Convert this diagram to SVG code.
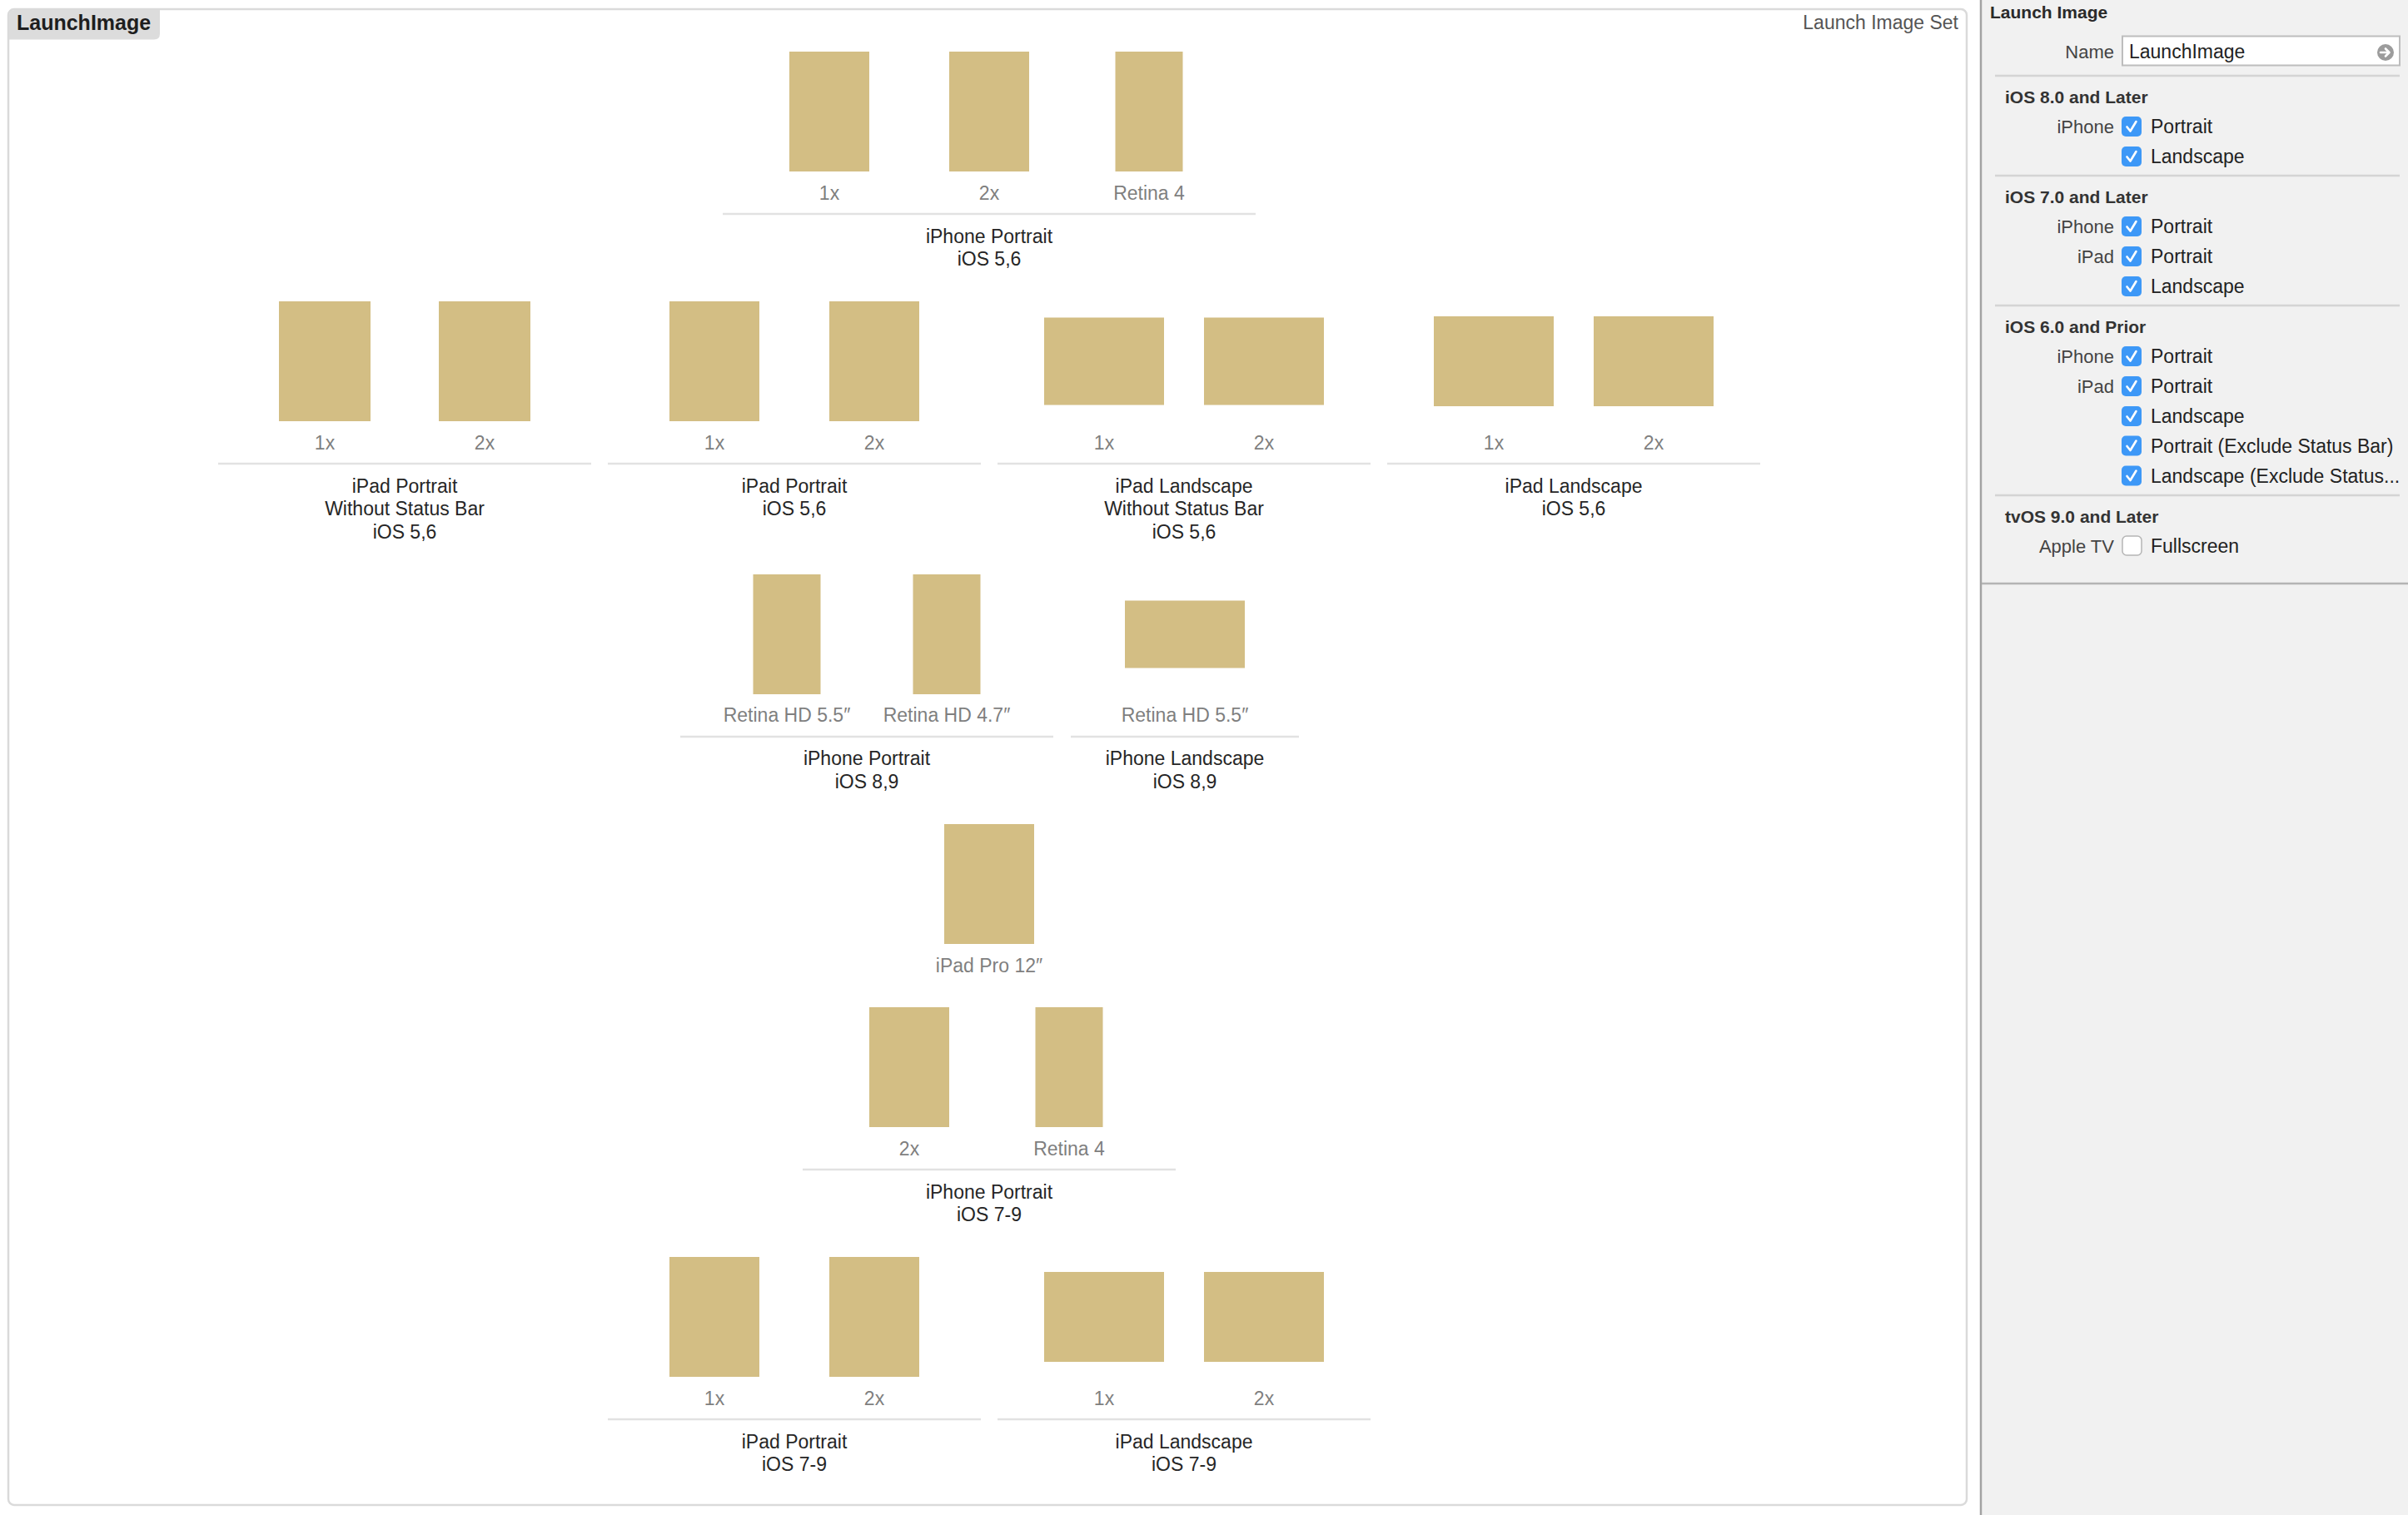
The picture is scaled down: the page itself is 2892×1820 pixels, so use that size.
<svg xmlns="http://www.w3.org/2000/svg" width="2892" height="1820" viewBox="0 0 2892 1820">
<style>
  text { font-family: "Liberation Sans", Arial, sans-serif; }
  .img { fill: #D3BE84; }
  .lbl { font-size: 23px; fill: #7f7f7f; text-anchor: middle; }
  .ttl { font-size: 23px; fill: #262626; text-anchor: middle; }
  .sep { stroke: #e2e2e2; stroke-width: 2.5; }
  .psep { stroke: #d4d4d4; stroke-width: 2.5; }
  .hdr { font-size: 21px; font-weight: bold; fill: #333333; }
  .key { font-size: 22px; fill: #444444; text-anchor: end; }
  .val { font-size: 23px; fill: #222222; }
  .cb { fill: #3d98f7; }
  .ck { fill: none; stroke: #ffffff; stroke-width: 2.6; stroke-linecap: round; stroke-linejoin: round; }
</style>
<defs>
  <g id="check">
    <rect class="cb" x="0" y="0" width="24" height="24" rx="5"/>
    <path class="ck" d="M6.5 12.5 L10.5 17.5 L17.5 6"/>
  </g>
</defs>

<rect x="0" y="0" width="2892" height="1820" fill="#ffffff"/>

<!-- canvas -->
<g id="canvas">
  <rect x="10" y="11" width="2352" height="1797" rx="7" fill="#ffffff" stroke="#dadada" stroke-width="2.5"/>
  <path d="M11 47.5 L11 18 Q11 12 17 12 L192 12 L192 40.5 Q192 47.5 185 47.5 Z" fill="#dcdcdc"/>
  <text x="20" y="36" style="font-size:25px;font-weight:bold;fill:#1e1e1e">LaunchImage</text>
  <text x="2352" y="35" style="font-size:23px;fill:#555555;text-anchor:end">Launch Image Set</text>
</g>

<!-- Row 1 -->
<g id="iphone-portrait-ios56">
  <rect class="img" x="948" y="62" width="96" height="144"/>
  <rect class="img" x="1140" y="62" width="96" height="144"/>
  <rect class="img" x="1339.5" y="62" width="81" height="144"/>
  <text class="lbl" x="996" y="240">1x</text>
  <text class="lbl" x="1188" y="240">2x</text>
  <text class="lbl" x="1380" y="240">Retina 4</text>
  <line class="sep" x1="868" y1="257" x2="1508" y2="257"/>
  <text class="ttl" x="1188" y="292">iPhone Portrait</text>
  <text class="ttl" x="1188" y="319">iOS 5,6</text>
</g>

<!-- Row 2 -->
<g id="ipad-portrait-nostatus-ios56">
  <rect class="img" x="335" y="362" width="110" height="144"/>
  <rect class="img" x="527" y="362" width="110" height="144"/>
  <text class="lbl" x="390" y="540">1x</text>
  <text class="lbl" x="582" y="540">2x</text>
  <line class="sep" x1="262" y1="557" x2="710" y2="557"/>
  <text class="ttl" x="486" y="592">iPad Portrait</text>
  <text class="ttl" x="486" y="619">Without Status Bar</text>
  <text class="ttl" x="486" y="647">iOS 5,6</text>
</g>
<g id="ipad-portrait-ios56">
  <rect class="img" x="804" y="362" width="108" height="144"/>
  <rect class="img" x="996" y="362" width="108" height="144"/>
  <text class="lbl" x="858" y="540">1x</text>
  <text class="lbl" x="1050" y="540">2x</text>
  <line class="sep" x1="730" y1="557" x2="1178" y2="557"/>
  <text class="ttl" x="954" y="592">iPad Portrait</text>
  <text class="ttl" x="954" y="619">iOS 5,6</text>
</g>
<g id="ipad-landscape-nostatus-ios56">
  <rect class="img" x="1254" y="381.5" width="144" height="105"/>
  <rect class="img" x="1446" y="381.5" width="144" height="105"/>
  <text class="lbl" x="1326" y="540">1x</text>
  <text class="lbl" x="1518" y="540">2x</text>
  <line class="sep" x1="1198" y1="557" x2="1646" y2="557"/>
  <text class="ttl" x="1422" y="592">iPad Landscape</text>
  <text class="ttl" x="1422" y="619">Without Status Bar</text>
  <text class="ttl" x="1422" y="647">iOS 5,6</text>
</g>
<g id="ipad-landscape-ios56">
  <rect class="img" x="1722" y="380" width="144" height="108"/>
  <rect class="img" x="1914" y="380" width="144" height="108"/>
  <text class="lbl" x="1794" y="540">1x</text>
  <text class="lbl" x="1986" y="540">2x</text>
  <line class="sep" x1="1666" y1="557" x2="2114" y2="557"/>
  <text class="ttl" x="1890" y="592">iPad Landscape</text>
  <text class="ttl" x="1890" y="619">iOS 5,6</text>
</g>

<!-- Row 3 -->
<g id="iphone-portrait-ios89">
  <rect class="img" x="904.5" y="690" width="81" height="144"/>
  <rect class="img" x="1096.5" y="690" width="81" height="144"/>
  <text class="lbl" x="945" y="867">Retina HD 5.5″</text>
  <text class="lbl" x="1137" y="867">Retina HD 4.7″</text>
  <line class="sep" x1="817" y1="885" x2="1265" y2="885"/>
  <text class="ttl" x="1041" y="919">iPhone Portrait</text>
  <text class="ttl" x="1041" y="947">iOS 8,9</text>
</g>
<g id="iphone-landscape-ios89">
  <rect class="img" x="1351" y="721.5" width="144" height="81"/>
  <text class="lbl" x="1423" y="867">Retina HD 5.5″</text>
  <line class="sep" x1="1286" y1="885" x2="1560" y2="885"/>
  <text class="ttl" x="1423" y="919">iPhone Landscape</text>
  <text class="ttl" x="1423" y="947">iOS 8,9</text>
</g>

<!-- Row 4 -->
<g id="ipad-pro-12">
  <rect class="img" x="1134" y="990" width="108" height="144"/>
  <text class="lbl" x="1188" y="1168">iPad Pro 12″</text>
</g>

<!-- Row 5 -->
<g id="iphone-portrait-ios79">
  <rect class="img" x="1044" y="1210" width="96" height="144"/>
  <rect class="img" x="1243.5" y="1210" width="81" height="144"/>
  <text class="lbl" x="1092" y="1388">2x</text>
  <text class="lbl" x="1284" y="1388">Retina 4</text>
  <line class="sep" x1="964" y1="1405" x2="1412" y2="1405"/>
  <text class="ttl" x="1188" y="1440">iPhone Portrait</text>
  <text class="ttl" x="1188" y="1467">iOS 7-9</text>
</g>

<!-- Row 6 -->
<g id="ipad-portrait-ios79">
  <rect class="img" x="804" y="1510" width="108" height="144"/>
  <rect class="img" x="996" y="1510" width="108" height="144"/>
  <text class="lbl" x="858" y="1688">1x</text>
  <text class="lbl" x="1050" y="1688">2x</text>
  <line class="sep" x1="730" y1="1705" x2="1178" y2="1705"/>
  <text class="ttl" x="954" y="1740">iPad Portrait</text>
  <text class="ttl" x="954" y="1767">iOS 7-9</text>
</g>
<g id="ipad-landscape-ios79">
  <rect class="img" x="1254" y="1528" width="144" height="108"/>
  <rect class="img" x="1446" y="1528" width="144" height="108"/>
  <text class="lbl" x="1326" y="1688">1x</text>
  <text class="lbl" x="1518" y="1688">2x</text>
  <line class="sep" x1="1198" y1="1705" x2="1646" y2="1705"/>
  <text class="ttl" x="1422" y="1740">iPad Landscape</text>
  <text class="ttl" x="1422" y="1767">iOS 7-9</text>
</g>

<!-- Inspector panel -->
<g id="inspector">
  <rect x="2379" y="0" width="513" height="1820" fill="#f1f1f1"/>
  <line x1="2379" y1="0" x2="2379" y2="1820" stroke="#a3a3a3" stroke-width="2.5"/>
  <line x1="2380" y1="701" x2="2892" y2="701" stroke="#b4b4b4" stroke-width="2.5"/>
  <text x="2390" y="22" style="font-size:21px;font-weight:bold;fill:#2a2a2a">Launch Image</text>

  <text class="key" x="2539" y="70">Name</text>
  <rect x="2549" y="43.5" width="333" height="35" fill="#ffffff" stroke="#bdbdbd" stroke-width="2"/>
  <text class="val" x="2557" y="70">LaunchImage</text>
  <circle cx="2865" cy="63" r="10" fill="#9c9c9c"/>
  <path d="M2859 63 L2869 63 M2865 58.5 L2869.5 63 L2865 67.5" fill="none" stroke="#ffffff" stroke-width="2.6" stroke-linecap="round" stroke-linejoin="round"/>
  <line class="psep" x1="2396" y1="91" x2="2882" y2="91"/>

  <text class="hdr" x="2408" y="124">iOS 8.0 and Later</text>
  <text class="key" x="2539" y="160">iPhone</text>
  <use href="#check" x="2548" y="140"/>
  <text class="val" x="2583" y="160">Portrait</text>
  <use href="#check" x="2548" y="176"/>
  <text class="val" x="2583" y="196">Landscape</text>
  <line class="psep" x1="2396" y1="211" x2="2882" y2="211"/>

  <text class="hdr" x="2408" y="244">iOS 7.0 and Later</text>
  <text class="key" x="2539" y="280">iPhone</text>
  <use href="#check" x="2548" y="260"/>
  <text class="val" x="2583" y="280">Portrait</text>
  <text class="key" x="2539" y="316">iPad</text>
  <use href="#check" x="2548" y="296"/>
  <text class="val" x="2583" y="316">Portrait</text>
  <use href="#check" x="2548" y="332"/>
  <text class="val" x="2583" y="352">Landscape</text>
  <line class="psep" x1="2396" y1="367" x2="2882" y2="367"/>

  <text class="hdr" x="2408" y="400">iOS 6.0 and Prior</text>
  <text class="key" x="2539" y="436">iPhone</text>
  <use href="#check" x="2548" y="416"/>
  <text class="val" x="2583" y="436">Portrait</text>
  <text class="key" x="2539" y="472">iPad</text>
  <use href="#check" x="2548" y="452"/>
  <text class="val" x="2583" y="472">Portrait</text>
  <use href="#check" x="2548" y="488"/>
  <text class="val" x="2583" y="508">Landscape</text>
  <use href="#check" x="2548" y="523.5"/>
  <text class="val" x="2583" y="543.5">Portrait (Exclude Status Bar)</text>
  <use href="#check" x="2548" y="559.5"/>
  <text class="val" x="2583" y="579.5">Landscape (Exclude Status...</text>
  <line class="psep" x1="2396" y1="595" x2="2882" y2="595"/>

  <text class="hdr" x="2408" y="628">tvOS 9.0 and Later</text>
  <text class="key" x="2539" y="664">Apple TV</text>
  <rect x="2549" y="644" width="23" height="23" rx="5" fill="#ffffff" stroke="#b5b5b5" stroke-width="1.5"/>
  <text class="val" x="2583" y="664">Fullscreen</text>
</g>
</svg>
